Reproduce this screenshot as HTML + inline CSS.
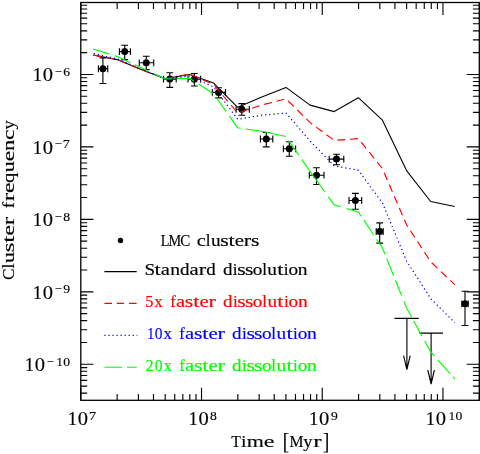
<!DOCTYPE html>
<html lang="en"><head><meta charset="utf-8"><title>Cluster frequency vs time</title>
<style>
html,body{margin:0;padding:0;background:#fff;}
body{width:480px;height:454px;overflow:hidden;font-family:"Liberation Serif", serif;}
svg{display:block;}
text{font-family:"Liberation Serif", serif;}
</style></head><body>
<svg width="480" height="454" viewBox="0 0 480 454">
<rect x="0" y="0" width="480" height="454" fill="#fff"/>
<g fill="none" stroke="#000" stroke-width="1.12">
<path d="M98.40 68.75H107.75M98.40 65.35v6.80M107.75 65.35v6.80M102.90 57.90V83.50M99.50 57.90h6.80M99.50 83.50h6.80M119.40 51.60H130.40M119.40 48.20v6.80M130.40 48.20v6.80M124.70 45.20V59.60M121.30 45.20h6.80M121.30 59.60h6.80M139.25 62.80H153.75M139.25 59.40v6.80M153.75 59.40v6.80M146.25 56.25V69.50M142.85 56.25h6.80M142.85 69.50h6.80M163.50 79.10H176.20M163.50 75.70v6.80M176.20 75.70v6.80M169.80 72.70V87.40M166.40 72.70h6.80M166.40 87.40h6.80M188.00 79.20H200.60M188.00 75.80v6.80M200.60 75.80v6.80M194.30 73.50V86.00M190.90 73.50h6.80M190.90 86.00h6.80M212.30 92.40H225.50M212.30 89.00v6.80M225.50 89.00v6.80M218.60 87.70V97.90M215.20 87.70h6.80M215.20 97.90h6.80M236.10 109.30H249.30M236.10 105.90v6.80M249.30 105.90v6.80M241.80 103.60V115.20M238.40 103.60h6.80M238.40 115.20h6.80M260.40 139.00H272.80M260.40 135.60v6.80M272.80 135.60v6.80M266.30 132.50V146.90M262.90 132.50h6.80M262.90 146.90h6.80M283.40 148.80H295.60M283.40 145.40v6.80M295.60 145.40v6.80M289.30 141.80V156.20M285.90 141.80h6.80M285.90 156.20h6.80M309.30 175.20H324.00M309.30 171.80v6.80M324.00 171.80v6.80M316.50 167.70V184.50M313.10 167.70h6.80M313.10 184.50h6.80M329.20 159.10H343.80M329.20 155.70v6.80M343.80 155.70v6.80M336.50 154.20V164.70M333.10 154.20h6.80M333.10 164.70h6.80M349.00 200.50H361.70M349.00 197.10v6.80M361.70 197.10v6.80M355.40 193.40V209.30M352.00 193.40h6.80M352.00 209.30h6.80M376.20 231.50H383.20M376.20 228.10v6.80M383.20 228.10v6.80M379.70 222.90V243.10M376.30 222.90h6.80M376.30 243.10h6.80M461.80 303.80H468.20M461.80 300.40v6.80M468.20 300.40v6.80M465.00 291.20V325.50M461.60 291.20h6.80M461.60 325.50h6.80"/>
<path d="M394.50 318.40H418.80M406.90 318.40V369.70M403.60 355.70L406.90 369.70L410.20 355.70M419.30 333.10H443.00M431.10 333.10V384.00M427.80 370.00L431.10 384.00L434.40 370.00"/>
</g>
<g fill="#000"><circle cx="102.90" cy="68.75" r="3.5"/><circle cx="124.70" cy="51.60" r="3.5"/><circle cx="146.25" cy="62.80" r="3.5"/><circle cx="169.80" cy="79.10" r="3.5"/><circle cx="194.30" cy="79.20" r="3.5"/><circle cx="218.60" cy="92.40" r="3.5"/><circle cx="241.80" cy="109.30" r="3.5"/><circle cx="266.30" cy="139.00" r="3.5"/><circle cx="289.30" cy="148.80" r="3.5"/><circle cx="316.50" cy="175.20" r="3.5"/><circle cx="336.50" cy="159.10" r="3.5"/><circle cx="355.40" cy="200.50" r="3.5"/><circle cx="379.70" cy="231.50" r="3.5"/><circle cx="465.00" cy="303.80" r="3.5"/></g>
<g fill="none" stroke-linejoin="round">
<polyline points="93.00,55.00 117.12,59.60 141.24,69.40 165.36,78.75 189.48,74.50 213.60,83.10 237.72,107.30 261.84,97.00 285.96,87.40 310.08,105.10 334.20,111.60 358.32,97.70 382.44,120.20 406.56,170.60 430.68,201.50 454.80,206.50" stroke="#000" stroke-width="1.1"/>
<polyline points="93.00,55.00 117.12,59.60 141.24,69.60 165.36,78.75 189.48,74.00 213.60,84.50 237.72,113.00 261.84,105.00 285.96,98.80 310.08,122.60 334.20,140.40 358.32,138.60 382.44,168.60 406.56,224.80 430.68,261.80 454.80,284.70" stroke="#f00" stroke-width="1.12" stroke-dasharray="7.9 4.884" stroke-dashoffset="11.977"/>
<polyline points="93.00,53.30 117.12,58.80 141.24,69.20 165.36,78.75 189.48,76.00 213.60,87.00 237.72,119.30 261.84,115.20 285.96,113.00 310.08,141.00 334.20,165.80 358.32,170.20 382.44,203.00 406.56,261.00 430.68,298.60 454.80,322.60" stroke="#00f" stroke-width="1.2" stroke-dasharray="1.25 2.9" stroke-dashoffset="3.45"/>
<path d="M93.00 49.00L109.40 54.17M114.50 55.77L117.12 56.60L130.50 62.81M134.90 64.86L141.24 67.80L148.75 71.29M153.90 73.68L165.36 79.00L172.50 78.76M176.90 78.62L189.48 78.20L194.00 81.12M198.50 84.03L212.70 93.22M216.40 97.75L226.25 111.63M229.40 116.07L237.72 127.80L240.80 128.25M245.90 128.99L261.84 131.30L285.75 136.55M288.70 140.56L298.75 155.11M301.75 159.45L310.08 171.50L324.70 191.74M328.20 196.59L334.20 204.90L340.50 206.75M346.70 208.58L358.32 212.00L361.20 216.30M363.80 220.18L373.90 235.25M376.70 239.43L382.44 248.00L385.00 254.37M386.70 258.60L393.60 275.76M395.40 280.24L401.60 295.66M403.90 301.38L406.56 308.00L411.60 317.19M413.70 321.02L422.00 336.17M424.70 341.09L430.68 352.00L434.40 356.13M437.90 360.02L450.30 373.80M452.90 376.69L454.80 378.80L455.20 378.80" stroke="#0f0" stroke-width="1.15"/>
</g>
<g fill="none" stroke="#000">
<path d="M80.80 400.30v-12.60M80.80 2.50v12.60M117.14 400.30v-6.40M117.14 2.50v6.40M138.40 400.30v-6.40M138.40 2.50v6.40M153.48 400.30v-6.40M153.48 2.50v6.40M165.18 400.30v-6.40M165.18 2.50v6.40M174.74 400.30v-6.40M174.74 2.50v6.40M182.82 400.30v-6.40M182.82 2.50v6.40M189.82 400.30v-6.40M189.82 2.50v6.40M196.00 400.30v-6.40M196.00 2.50v6.40M201.52 400.30v-12.60M201.52 2.50v12.60M237.86 400.30v-6.40M237.86 2.50v6.40M259.12 400.30v-6.40M259.12 2.50v6.40M274.20 400.30v-6.40M274.20 2.50v6.40M285.90 400.30v-6.40M285.90 2.50v6.40M295.46 400.30v-6.40M295.46 2.50v6.40M303.54 400.30v-6.40M303.54 2.50v6.40M310.54 400.30v-6.40M310.54 2.50v6.40M316.72 400.30v-6.40M316.72 2.50v6.40M322.24 400.30v-12.60M322.24 2.50v12.60M358.58 400.30v-6.40M358.58 2.50v6.40M379.84 400.30v-6.40M379.84 2.50v6.40M394.92 400.30v-6.40M394.92 2.50v6.40M406.62 400.30v-6.40M406.62 2.50v6.40M416.18 400.30v-6.40M416.18 2.50v6.40M424.26 400.30v-6.40M424.26 2.50v6.40M431.26 400.30v-6.40M431.26 2.50v6.40M437.44 400.30v-6.40M437.44 2.50v6.40M442.96 400.30v-12.60M442.96 2.50v12.60M479.30 400.30v-6.40M479.30 2.50v6.40M80.80 393.12h6.40M479.30 393.12h-6.40M80.80 386.10h6.40M479.30 386.10h-6.40M80.80 380.37h6.40M479.30 380.37h-6.40M80.80 375.51h6.40M479.30 375.51h-6.40M80.80 371.31h6.40M479.30 371.31h-6.40M80.80 367.61h6.40M479.30 367.61h-6.40M80.80 364.29h12.60M479.30 364.29h-12.60M80.80 342.48h6.40M479.30 342.48h-6.40M80.80 329.72h6.40M479.30 329.72h-6.40M80.80 320.66h6.40M479.30 320.66h-6.40M80.80 313.64h6.40M479.30 313.64h-6.40M80.80 307.91h6.40M479.30 307.91h-6.40M80.80 303.05h6.40M479.30 303.05h-6.40M80.80 298.85h6.40M479.30 298.85h-6.40M80.80 295.15h6.40M479.30 295.15h-6.40M80.80 291.83h12.60M479.30 291.83h-12.60M80.80 270.02h6.40M479.30 270.02h-6.40M80.80 257.26h6.40M479.30 257.26h-6.40M80.80 248.20h6.40M479.30 248.20h-6.40M80.80 241.18h6.40M479.30 241.18h-6.40M80.80 235.45h6.40M479.30 235.45h-6.40M80.80 230.59h6.40M479.30 230.59h-6.40M80.80 226.39h6.40M479.30 226.39h-6.40M80.80 222.69h6.40M479.30 222.69h-6.40M80.80 219.37h12.60M479.30 219.37h-12.60M80.80 197.56h6.40M479.30 197.56h-6.40M80.80 184.80h6.40M479.30 184.80h-6.40M80.80 175.74h6.40M479.30 175.74h-6.40M80.80 168.72h6.40M479.30 168.72h-6.40M80.80 162.99h6.40M479.30 162.99h-6.40M80.80 158.13h6.40M479.30 158.13h-6.40M80.80 153.93h6.40M479.30 153.93h-6.40M80.80 150.23h6.40M479.30 150.23h-6.40M80.80 146.91h12.60M479.30 146.91h-12.60M80.80 125.10h6.40M479.30 125.10h-6.40M80.80 112.34h6.40M479.30 112.34h-6.40M80.80 103.28h6.40M479.30 103.28h-6.40M80.80 96.26h6.40M479.30 96.26h-6.40M80.80 90.53h6.40M479.30 90.53h-6.40M80.80 85.67h6.40M479.30 85.67h-6.40M80.80 81.47h6.40M479.30 81.47h-6.40M80.80 77.77h6.40M479.30 77.77h-6.40M80.80 74.45h12.60M479.30 74.45h-12.60M80.80 52.64h6.40M479.30 52.64h-6.40M80.80 39.88h6.40M479.30 39.88h-6.40M80.80 30.82h6.40M479.30 30.82h-6.40M80.80 23.80h6.40M479.30 23.80h-6.40M80.80 18.07h6.40M479.30 18.07h-6.40M80.80 13.21h6.40M479.30 13.21h-6.40M80.80 9.01h6.40M479.30 9.01h-6.40M80.80 5.31h6.40M479.30 5.31h-6.40" stroke-width="1.12"/>
<rect x="80.8" y="2.5" width="398.5" height="397.8" stroke-width="1.3"/>
</g>
<g fill="none">
<circle cx="120.5" cy="240.5" r="2.7" fill="#000"/>
<path d="M104.4 271.6H136.7" stroke="#000" stroke-width="1.05"/>
<path d="M104.4 303.3H112M116.8 303.3H123.9M129.1 303.3H136.6" stroke="#f00" stroke-width="1.15"/>
<path d="M104.4 335.4H137.29999999999998" stroke="#00f" stroke-width="1.15" stroke-dasharray="1.2 2.83"/>
<path d="M104.4 367.2H122M127 367.2H136.7" stroke="#0f0" stroke-width="1.15"/>
</g>
<g opacity="0.999">
<g transform="translate(160.90 245.50)" font-size="15.8" fill="#000" stroke="#000" stroke-width="0.16"><text transform="translate(4.07 0) scale(0.900 1)" x="-4.58">L</text><text transform="translate(13.80 0) scale(0.900 1)" x="-7.02">M</text><text transform="translate(24.21 0) scale(0.953 1)" x="-5.16">C</text><text transform="translate(40.50 0) scale(1.298 1)" x="-3.56">c</text><text transform="translate(47.29 0) scale(1.084 1)" x="-2.19">l</text><text transform="translate(54.75 0) scale(1.219 1)" x="-3.92">u</text><text transform="translate(63.58 0) scale(1.377 1)" x="-3.11">s</text><text transform="translate(70.82 0) scale(1.420 1)" x="-2.23">t</text><text transform="translate(78.51 0) scale(1.315 1)" x="-3.54">e</text><text transform="translate(86.65 0) scale(1.412 1)" x="-2.72">r</text><text transform="translate(94.35 0) scale(1.377 1)" x="-3.11">s</text></g>
<g transform="translate(145.30 275.10)" font-size="15.8" fill="#000" stroke="#000" stroke-width="0.16"><text transform="translate(4.53 0) scale(1.207 1)" x="-4.43">S</text><text transform="translate(12.44 0) scale(1.420 1)" x="-2.23">t</text><text transform="translate(20.36 0) scale(1.305 1)" x="-3.68">a</text><text transform="translate(29.87 0) scale(1.240 1)" x="-4.01">n</text><text transform="translate(39.59 0) scale(1.205 1)" x="-4.14">d</text><text transform="translate(48.87 0) scale(1.305 1)" x="-3.68">a</text><text transform="translate(57.24 0) scale(1.412 1)" x="-2.72">r</text><text transform="translate(65.84 0) scale(1.205 1)" x="-4.14">d</text><text transform="translate(82.58 0) scale(1.205 1)" x="-4.14">d</text><text transform="translate(89.82 0) scale(1.084 1)" x="-2.21">i</text><text transform="translate(96.16 0) scale(1.377 1)" x="-3.11">s</text><text transform="translate(103.85 0) scale(1.377 1)" x="-3.11">s</text><text transform="translate(112.22 0) scale(1.216 1)" x="-3.95">o</text><text transform="translate(119.23 0) scale(1.084 1)" x="-2.19">l</text><text transform="translate(126.70 0) scale(1.219 1)" x="-3.92">u</text><text transform="translate(135.07 0) scale(1.420 1)" x="-2.23">t</text><text transform="translate(140.95 0) scale(1.084 1)" x="-2.21">i</text><text transform="translate(147.97 0) scale(1.216 1)" x="-3.95">o</text><text transform="translate(157.47 0) scale(1.240 1)" x="-4.01">n</text></g>
<g transform="translate(145.00 306.70)" font-size="15.8" fill="#f00" stroke="#f00" stroke-width="0.16"><text transform="translate(4.53 0) scale(1.031 1)" x="-4.10">5</text><text transform="translate(13.58 0) scale(1.076 1)" x="-3.92">x</text><text transform="translate(28.28 0) scale(1.042 1)" x="-2.87">f</text><text transform="translate(35.75 0) scale(1.305 1)" x="-3.68">a</text><text transform="translate(44.12 0) scale(1.377 1)" x="-3.11">s</text><text transform="translate(51.36 0) scale(1.420 1)" x="-2.23">t</text><text transform="translate(59.05 0) scale(1.315 1)" x="-3.54">e</text><text transform="translate(67.20 0) scale(1.412 1)" x="-2.72">r</text><text transform="translate(83.03 0) scale(1.205 1)" x="-4.14">d</text><text transform="translate(90.27 0) scale(1.084 1)" x="-2.21">i</text><text transform="translate(96.61 0) scale(1.377 1)" x="-3.11">s</text><text transform="translate(104.30 0) scale(1.377 1)" x="-3.11">s</text><text transform="translate(112.67 0) scale(1.216 1)" x="-3.95">o</text><text transform="translate(119.69 0) scale(1.084 1)" x="-2.19">l</text><text transform="translate(127.15 0) scale(1.219 1)" x="-3.92">u</text><text transform="translate(135.52 0) scale(1.420 1)" x="-2.23">t</text><text transform="translate(141.41 0) scale(1.084 1)" x="-2.21">i</text><text transform="translate(148.42 0) scale(1.216 1)" x="-3.95">o</text><text transform="translate(157.92 0) scale(1.240 1)" x="-4.01">n</text></g>
<g transform="translate(145.00 339.20)" font-size="15.8" fill="#00f" stroke="#00f" stroke-width="0.16"><text transform="translate(5.88 0) scale(0.900 1)" x="-4.17">1</text><text transform="translate(13.58 0) scale(0.980 1)" x="-3.95">0</text><text transform="translate(22.62 0) scale(1.076 1)" x="-3.92">x</text><text transform="translate(37.33 0) scale(1.042 1)" x="-2.87">f</text><text transform="translate(44.80 0) scale(1.305 1)" x="-3.68">a</text><text transform="translate(53.17 0) scale(1.377 1)" x="-3.11">s</text><text transform="translate(60.41 0) scale(1.420 1)" x="-2.23">t</text><text transform="translate(68.10 0) scale(1.315 1)" x="-3.54">e</text><text transform="translate(76.25 0) scale(1.412 1)" x="-2.72">r</text><text transform="translate(92.08 0) scale(1.205 1)" x="-4.14">d</text><text transform="translate(99.32 0) scale(1.084 1)" x="-2.21">i</text><text transform="translate(105.66 0) scale(1.377 1)" x="-3.11">s</text><text transform="translate(113.35 0) scale(1.377 1)" x="-3.11">s</text><text transform="translate(121.72 0) scale(1.216 1)" x="-3.95">o</text><text transform="translate(128.74 0) scale(1.084 1)" x="-2.19">l</text><text transform="translate(136.20 0) scale(1.219 1)" x="-3.92">u</text><text transform="translate(144.57 0) scale(1.420 1)" x="-2.23">t</text><text transform="translate(150.46 0) scale(1.084 1)" x="-2.21">i</text><text transform="translate(157.47 0) scale(1.216 1)" x="-3.95">o</text><text transform="translate(166.97 0) scale(1.240 1)" x="-4.01">n</text></g>
<g transform="translate(145.00 370.50)" font-size="15.8" fill="#0f0" stroke="#0f0" stroke-width="0.16"><text transform="translate(4.53 0) scale(1.036 1)" x="-3.86">2</text><text transform="translate(13.58 0) scale(0.980 1)" x="-3.95">0</text><text transform="translate(22.62 0) scale(1.076 1)" x="-3.92">x</text><text transform="translate(37.33 0) scale(1.042 1)" x="-2.87">f</text><text transform="translate(44.80 0) scale(1.305 1)" x="-3.68">a</text><text transform="translate(53.17 0) scale(1.377 1)" x="-3.11">s</text><text transform="translate(60.41 0) scale(1.420 1)" x="-2.23">t</text><text transform="translate(68.10 0) scale(1.315 1)" x="-3.54">e</text><text transform="translate(76.25 0) scale(1.412 1)" x="-2.72">r</text><text transform="translate(92.08 0) scale(1.205 1)" x="-4.14">d</text><text transform="translate(99.32 0) scale(1.084 1)" x="-2.21">i</text><text transform="translate(105.66 0) scale(1.377 1)" x="-3.11">s</text><text transform="translate(113.35 0) scale(1.377 1)" x="-3.11">s</text><text transform="translate(121.72 0) scale(1.216 1)" x="-3.95">o</text><text transform="translate(128.74 0) scale(1.084 1)" x="-2.19">l</text><text transform="translate(136.20 0) scale(1.219 1)" x="-3.92">u</text><text transform="translate(144.57 0) scale(1.420 1)" x="-2.23">t</text><text transform="translate(150.46 0) scale(1.084 1)" x="-2.21">i</text><text transform="translate(157.47 0) scale(1.216 1)" x="-3.95">o</text><text transform="translate(166.97 0) scale(1.240 1)" x="-4.01">n</text></g>
<g transform="translate(29.90 81.45)" font-size="18.6" fill="#000" stroke="#000" stroke-width="0.16"><text transform="translate(7.80 0) scale(1.008 1)" x="-4.91">1</text><text transform="translate(18.00 0) scale(1.104 1)" x="-4.65">0</text></g><g transform="translate(53.90 75.75)" font-size="12.4" fill="#000" stroke="#000" stroke-width="0.16"><text transform="translate(4.40 0) scale(1.005 1)" x="-3.50">−</text><text transform="translate(12.80 0) scale(1.095 1)" x="-3.18">6</text></g>
<g transform="translate(29.90 153.91)" font-size="18.6" fill="#000" stroke="#000" stroke-width="0.16"><text transform="translate(7.80 0) scale(1.008 1)" x="-4.91">1</text><text transform="translate(18.00 0) scale(1.104 1)" x="-4.65">0</text></g><g transform="translate(53.90 148.21)" font-size="12.4" fill="#000" stroke="#000" stroke-width="0.16"><text transform="translate(4.40 0) scale(1.005 1)" x="-3.50">−</text><text transform="translate(12.80 0) scale(1.154 1)" x="-3.33">7</text></g>
<g transform="translate(29.90 226.37)" font-size="18.6" fill="#000" stroke="#000" stroke-width="0.16"><text transform="translate(7.80 0) scale(1.008 1)" x="-4.91">1</text><text transform="translate(18.00 0) scale(1.104 1)" x="-4.65">0</text></g><g transform="translate(53.90 220.67)" font-size="12.4" fill="#000" stroke="#000" stroke-width="0.16"><text transform="translate(4.40 0) scale(1.005 1)" x="-3.50">−</text><text transform="translate(12.80 0) scale(1.104 1)" x="-3.10">8</text></g>
<g transform="translate(29.90 298.83)" font-size="18.6" fill="#000" stroke="#000" stroke-width="0.16"><text transform="translate(7.80 0) scale(1.008 1)" x="-4.91">1</text><text transform="translate(18.00 0) scale(1.104 1)" x="-4.65">0</text></g><g transform="translate(53.90 293.13)" font-size="12.4" fill="#000" stroke="#000" stroke-width="0.16"><text transform="translate(4.40 0) scale(1.005 1)" x="-3.50">−</text><text transform="translate(12.80 0) scale(1.096 1)" x="-3.05">9</text></g>
<g transform="translate(21.90 371.29)" font-size="18.6" fill="#000" stroke="#000" stroke-width="0.16"><text transform="translate(7.80 0) scale(1.008 1)" x="-4.91">1</text><text transform="translate(18.00 0) scale(1.104 1)" x="-4.65">0</text></g><g transform="translate(45.90 365.59)" font-size="12.4" fill="#000" stroke="#000" stroke-width="0.16"><text transform="translate(4.40 0) scale(1.005 1)" x="-3.50">−</text><text transform="translate(14.00 0) scale(1.008 1)" x="-3.27">1</text><text transform="translate(20.80 0) scale(1.104 1)" x="-3.10">0</text></g>
<g transform="translate(64.80 424.70)" font-size="18.6" fill="#000" stroke="#000" stroke-width="0.16"><text transform="translate(7.80 0) scale(1.008 1)" x="-4.91">1</text><text transform="translate(18.00 0) scale(1.104 1)" x="-4.65">0</text></g><g transform="translate(88.80 420.40)" font-size="12.4" fill="#000" stroke="#000" stroke-width="0.16"><text transform="translate(4.00 0) scale(1.154 1)" x="-3.33">7</text></g>
<g transform="translate(185.52 424.70)" font-size="18.6" fill="#000" stroke="#000" stroke-width="0.16"><text transform="translate(7.80 0) scale(1.008 1)" x="-4.91">1</text><text transform="translate(18.00 0) scale(1.104 1)" x="-4.65">0</text></g><g transform="translate(209.52 420.40)" font-size="12.4" fill="#000" stroke="#000" stroke-width="0.16"><text transform="translate(4.00 0) scale(1.104 1)" x="-3.10">8</text></g>
<g transform="translate(306.24 424.70)" font-size="18.6" fill="#000" stroke="#000" stroke-width="0.16"><text transform="translate(7.80 0) scale(1.008 1)" x="-4.91">1</text><text transform="translate(18.00 0) scale(1.104 1)" x="-4.65">0</text></g><g transform="translate(330.24 420.40)" font-size="12.4" fill="#000" stroke="#000" stroke-width="0.16"><text transform="translate(4.00 0) scale(1.096 1)" x="-3.05">9</text></g>
<g transform="translate(422.96 424.70)" font-size="18.6" fill="#000" stroke="#000" stroke-width="0.16"><text transform="translate(7.80 0) scale(1.008 1)" x="-4.91">1</text><text transform="translate(18.00 0) scale(1.104 1)" x="-4.65">0</text></g><g transform="translate(446.96 420.40)" font-size="12.4" fill="#000" stroke="#000" stroke-width="0.16"><text transform="translate(5.20 0) scale(1.008 1)" x="-3.27">1</text><text transform="translate(12.00 0) scale(1.104 1)" x="-3.10">0</text></g>
<g transform="translate(231.00 447.00)" font-size="17.5" fill="#000" stroke="#000" stroke-width="0.16"><text transform="translate(5.00 0) scale(0.900 1)" x="-5.36">T</text><text transform="translate(12.89 0) scale(1.138 1)" x="-2.45">i</text><text transform="translate(24.46 0) scale(1.257 1)" x="-6.85">m</text><text transform="translate(38.14 0) scale(1.381 1)" x="-3.92">e</text><text transform="translate(55.23 1.9) scale(1.080 1.27)" x="-3.25">[</text><text transform="translate(65.49 0) scale(0.900 1)" x="-7.78">M</text><text transform="translate(77.06 0) scale(1.056 1)" x="-4.45">y</text><text transform="translate(86.53 0) scale(1.450 1)" x="-3.01">r</text><text transform="translate(94.68 1.9) scale(1.080 1.27)" x="-2.58">]</text></g>
<g transform="translate(14.00 279.80) rotate(-90)" font-size="17.5" fill="#000" stroke="#000" stroke-width="0.16"><text transform="translate(5.45 0) scale(0.987 1)" x="-5.71">C</text><text transform="translate(13.75 0) scale(1.122 1)" x="-2.43">l</text><text transform="translate(22.32 0) scale(1.263 1)" x="-4.34">u</text><text transform="translate(32.44 0) scale(1.426 1)" x="-3.45">s</text><text transform="translate(40.74 0) scale(1.450 1)" x="-2.47">t</text><text transform="translate(49.56 0) scale(1.362 1)" x="-3.92">e</text><text transform="translate(58.91 0) scale(1.450 1)" x="-3.01">r</text><text transform="translate(75.00 0) scale(1.079 1)" x="-3.18">f</text><text transform="translate(82.78 0) scale(1.450 1)" x="-3.01">r</text><text transform="translate(92.12 0) scale(1.362 1)" x="-3.92">e</text><text transform="translate(102.24 0) scale(1.197 1)" x="-4.53">q</text><text transform="translate(113.14 0) scale(1.263 1)" x="-4.34">u</text><text transform="translate(123.78 0) scale(1.362 1)" x="-3.92">e</text><text transform="translate(134.42 0) scale(1.284 1)" x="-4.44">n</text><text transform="translate(145.06 0) scale(1.344 1)" x="-3.95">c</text><text transform="translate(154.92 0) scale(1.042 1)" x="-4.45">y</text></g>
</g>
</svg></body></html>
